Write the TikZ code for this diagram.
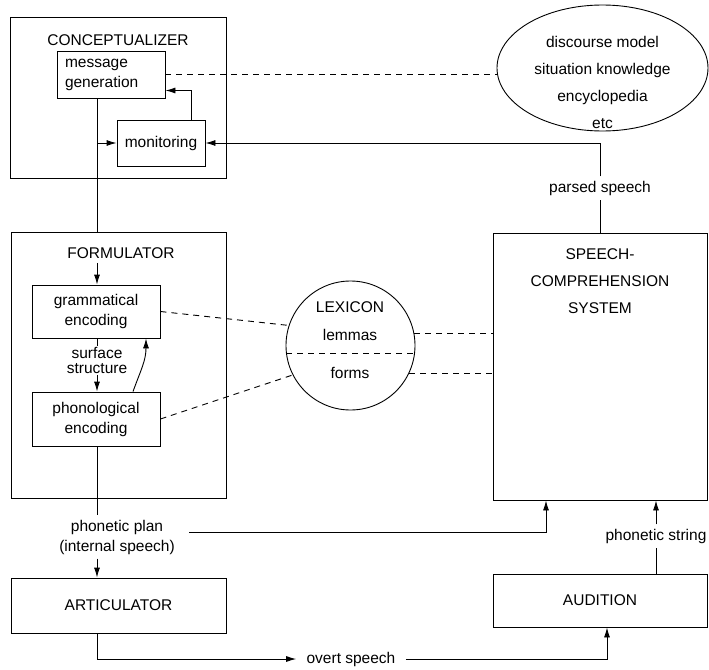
\documentclass[tikz,border=0pt]{standalone}
\usepackage{fontspec}
\setmainfont{Liberation Sans}
\usetikzlibrary{arrows.meta,shapes.geometric}

\begin{document}
\begin{tikzpicture}[x=1pt, y=-1pt, line width=0.9pt,
    every node/.style={font=\fontsize{15.5}{20}\selectfont, inner sep=0pt},
    box/.style={draw, rectangle, align=center},
    lbl/.style={align=center, inner sep=4pt},
    wide/.style={font=\fontsize{15.5}{27}\selectfont},
    arr/.style={-{Latex[length=10pt,width=6pt]}},
    dsh/.style={dash pattern=on 6pt off 5pt}]
    \useasboundingbox (0,0) rectangle (709,669);
    \coordinate (spine) at (97,0);

    % conceptualizer
    \node[box, minimum width=216pt, minimum height=161pt] (conc) at (118,97.5) {};
    \node (conclabel) at (118,40) {CONCEPTUALIZER};
    \node[box, minimum width=108pt, minimum height=47pt, text width=92pt, align=left] (msg) at (111,74.5) {message\\generation};
    \node[box, minimum width=88pt, minimum height=46pt] (mon) at (161,143) {monitoring};
    \node[draw, ellipse, minimum width=211pt, minimum height=126pt] (know) at (602.5,68) {};
    \node[wide, align=center] (knowtext) at (602.5,82) {discourse model\\situation knowledge\\encyclopedia\\etc};

    % formulator
    \node[box, minimum width=215pt, minimum height=266pt] (form) at (118.5,365) {};
    \node[lbl] (formlabel) at (121,253) {FORMULATOR};
    \node[box, minimum width=128pt, minimum height=53pt] (gram) at (96,311.5) {grammatical\\encoding};
    \node[align=center, inner sep=1pt, font=\fontsize{15.5}{14.5}\selectfont] (surf) at (97,360.5) {surface\\structure};
    \node[box, minimum width=128pt, minimum height=54pt] (phon) at (96,419) {phonological\\encoding};

    % lexicon
    \node[draw, circle, minimum size=129pt] (lex) at (350.5,345.5) {};
    \node (lexlabel) at (350,307) {LEXICON};
    \node (lemmas) at (350,335) {lemmas};
    \node (forms) at (350,373) {forms};

    % comprehension side
    \node[box, minimum width=214pt, minimum height=267pt] (scs) at (600,366.5) {};
    \node[wide, align=center] (scslabel) at (600,281) {SPEECH-\\COMPREHENSION\\SYSTEM};
    \node[lbl] (parsed) at (600,188) {parsed speech};
    \node[lbl] (str) at (656,536) {phonetic string};
    \node[box, minimum width=214pt, minimum height=53pt] (aud) at (600,600.5) {AUDITION};

    % articulator
    \node[lbl] (plan) at (117,537) {phonetic plan\\(internal speech)};
    \node[box, minimum width=215pt, minimum height=55pt] (artic) at (118.5,605.5) {ARTICULATOR};
    \node[lbl, inner xsep=10pt] (overt) at (351,659) {overt speech};

    \draw (msg.south -| spine) -- (form.north -| spine);
    \draw[arr] (mon.west -| spine) -- (mon.west);
    \draw[arr] ([xshift=-14pt]mon.north east) |- ([yshift=-16pt]msg.east);
    \draw[dsh] (msg.east) -- (know.west |- msg.east);
    \draw (scs.north) -- (parsed.south);
    \draw[arr] (parsed.north) |- (mon.east);

    \draw[arr] (formlabel.south -| spine) -- (gram.north -| spine);
    \draw (gram.south -| spine) -- (surf.north -| spine);
    \draw[arr] (surf.south -| spine) -- (phon.north -| spine);
    \draw[arr] ([xshift=37pt]phon.north) .. controls +(8,-22) and +(0,22) .. ([xshift=50pt]gram.south);

    \draw[dsh] (gram.east) -- (lex.162);
    \draw[dsh] (phon.east) -- (lex.207);
    \draw[dsh] (lex.187) -- (lex.-7);
    \draw[dsh] (lex.11) -- (lex.11 -| scs.west);
    \draw[dsh] (lex.-25) -- (lex.-25 -| scs.west);

    \draw (phon.south -| spine) -- (plan.north -| spine);
    \draw[arr] (plan.south -| spine) -- (artic.north -| spine);
    \draw[arr] ([xshift=10pt,yshift=5pt]plan.east) -| ([xshift=-54pt]scs.south);
    \draw[arr] (artic.south -| spine) |- (overt.west);
    \draw[arr] (overt.east) -| ([xshift=7pt]aud.south);
    \draw (aud.north -| str) -- (str.south);
    \draw[arr] (str.north) -- (str.north |- scs.south);
\end{tikzpicture}
\end{document}
